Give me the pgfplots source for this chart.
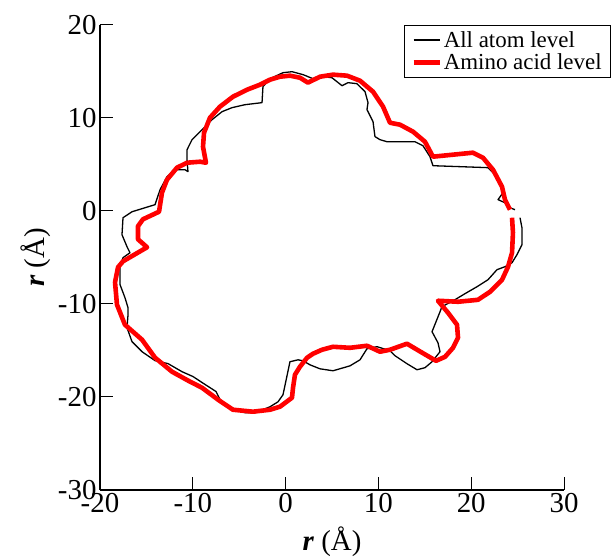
\documentclass[border=0pt]{standalone}
\usepackage{fontspec}
\setmainfont{Liberation Serif}
\usepackage{pgfplots}
\pgfplotsset{compat=1.18}
\begin{document}
\begin{tikzpicture}
\useasboundingbox (-100bp,-69bp) rectangle (511bp,490bp);
\begin{axis}[
  scale only axis, width=464bp, height=465bp,
  xmin=-20, xmax=30, ymin=-30, ymax=20,
  axis x line*=bottom, axis y line*=left,
  axis line style={line width=1.2bp, -},
  xtick={-20,-10,0,10,20,30}, ytick={-30,-20,-10,0,10,20},
  xticklabels={-20,-10,0,10,20,30}, yticklabels={-30,-20,-10,0,10,20},
  tick align=inside, major tick length=13bp,
  tick style={line width=1bp, black},
  ticklabel style={font=\fontsize{29}{29}\selectfont},
  xlabel={\textbf{\textit{r}} (Å)}, ylabel={\textbf{\textit{r}} (Å)},
  label style={font=\fontsize{29}{29}\selectfont},
  xlabel style={yshift=-7bp},
  legend style={at={(1,1)}, anchor=north east, xshift=47bp, draw=black, line width=0.8bp,
    font=\fontsize{23}{22}\selectfont, inner xsep=7bp, inner ysep=4bp, row sep=1bp,
    /tikz/every even column/.append style={column sep=11bp}},
  legend cell align=left,
  legend image code/.code={\draw[#1] (0bp,0bp) -- (26bp,0bp);},
]
\addplot[black, line width=1.3bp, line join=round] coordinates {
(25.26,-0.72) (25.47,-1.80) (25.47,-3.62) (24.93,-4.70) (24.40,-5.56) (23.64,-5.99)
(22.78,-6.31) (21.81,-7.39) (20.63,-8.14) (19.33,-8.89) (18.25,-9.54) (16.85,-10.29)
(16.64,-10.83) (15.78,-12.98) (16.42,-14.17) (16.64,-15.13) (15.78,-16.21) (15.02,-16.85)
(14.16,-17.07) (13.08,-16.42) (11.79,-15.56) (11.25,-15.02) (9.85,-14.59) (8.77,-14.81)
(8.02,-16.00) (6.94,-16.65) (5.11,-17.18) (3.71,-16.97) (2.63,-16.54) (1.88,-16.11)
(1.34,-16.00) (0.47,-16.21) (-0.28,-19.76) (-0.82,-20.52) (-1.68,-21.05) (-3.30,-21.69)
(-4.38,-21.69) (-5.78,-21.16) (-6.96,-20.49) (-7.50,-19.41) (-9.01,-18.44) (-9.98,-17.80)
(-11.16,-17.28) (-12.67,-16.41) (-14.07,-16.09) (-15.47,-15.13) (-16.55,-14.05) (-17.09,-12.55)
(-16.98,-11.15) (-16.98,-10.40) (-17.31,-9.32) (-17.84,-7.92) (-17.84,-5.99) (-17.52,-5.02)
(-16.77,-4.49) (-17.09,-3.84) (-17.63,-2.55) (-17.52,-0.72) (-16.55,-0.08) (-14.07,0.68)
(-13.53,2.29) (-12.78,3.69) (-11.92,4.44) (-10.84,4.44) (-10.52,4.23) (-10.62,5.52)
(-10.62,6.59) (-10.08,7.67) (-9.01,8.74) (-7.93,9.82) (-6.85,10.68) (-5.78,11.11)
(-4.38,11.43) (-2.54,11.65) (-2.44,13.37) (-1.68,14.23) (-0.28,14.87) (0.69,14.98)
(1.88,14.66) (2.95,14.23) (4.03,14.44) (5.00,14.33) (6.08,13.47) (6.72,13.80)
(7.69,13.69) (8.56,12.83) (8.88,11.65) (8.77,10.90) (9.42,9.61) (9.63,8.00)
(10.17,7.67) (10.92,7.45) (13.94,7.45) (14.80,7.02) (15.56,5.84) (15.88,4.87)
(19.01,4.76) (21.81,4.66) (22.57,3.90) (23.10,2.83) (23.43,1.97) (22.89,1.22)
(23.64,0.89) (24.18,0.35) (24.72,0.14)
};
\addlegendentry{All atom level}
\addplot[red, line width=4.6bp, line join=round] coordinates {
(24.40,-0.72) (24.50,-2.33) (24.40,-4.49) (23.97,-6.00) (23.32,-7.40) (22.03,-8.69)
(20.73,-9.55) (18.58,-9.76) (16.42,-9.65) (17.50,-10.94) (18.47,-12.23) (18.58,-13.63)
(18.04,-14.71) (17.18,-15.68) (16.21,-16.11) (14.70,-15.23) (13.08,-14.27) (11.25,-14.92)
(10.17,-15.13) (8.77,-14.49) (6.94,-14.71) (5.11,-14.60) (3.92,-14.92) (2.95,-15.35)
(2.31,-15.78) (1.55,-16.74) (1.01,-17.60) (0.80,-19.00) (0.69,-20.08) (-0.60,-21.04)
(-1.68,-21.37) (-3.51,-21.58) (-5.67,-21.37) (-7.28,-20.29) (-9.01,-19.00) (-10.30,-18.35)
(-12.24,-17.28) (-14.07,-15.77) (-15.47,-13.84) (-17.31,-12.23) (-18.17,-10.08) (-18.38,-7.67)
(-18.06,-6.05) (-17.52,-5.41) (-14.93,-3.90) (-15.91,-3.04) (-15.91,-1.64) (-15.37,-0.89)
(-13.64,-0.08) (-13.32,1.97) (-12.78,3.37) (-11.70,4.66) (-10.62,5.19) (-9.22,5.30)
(-8.58,5.19) (-8.90,6.91) (-8.79,8.42) (-8.15,10.03) (-7.07,11.22) (-5.67,12.29)
(-4.16,13.04) (-2.76,13.58) (-1.68,14.12) (-0.60,14.44) (0.47,14.55) (1.55,14.33)
(2.41,13.80) (3.71,14.44) (5.11,14.66) (6.62,14.55) (8.02,14.01) (9.42,12.83)
(10.50,11.22) (11.25,9.49) (12.33,9.28) (13.73,8.53) (15.02,7.45) (15.88,5.84)
(20.19,6.27) (21.27,5.73) (22.35,4.44) (23.32,2.61) (23.64,1.22) (24.18,0.14)
};
\addlegendentry{Amino acid level}
\end{axis}
\end{tikzpicture}
\end{document}
